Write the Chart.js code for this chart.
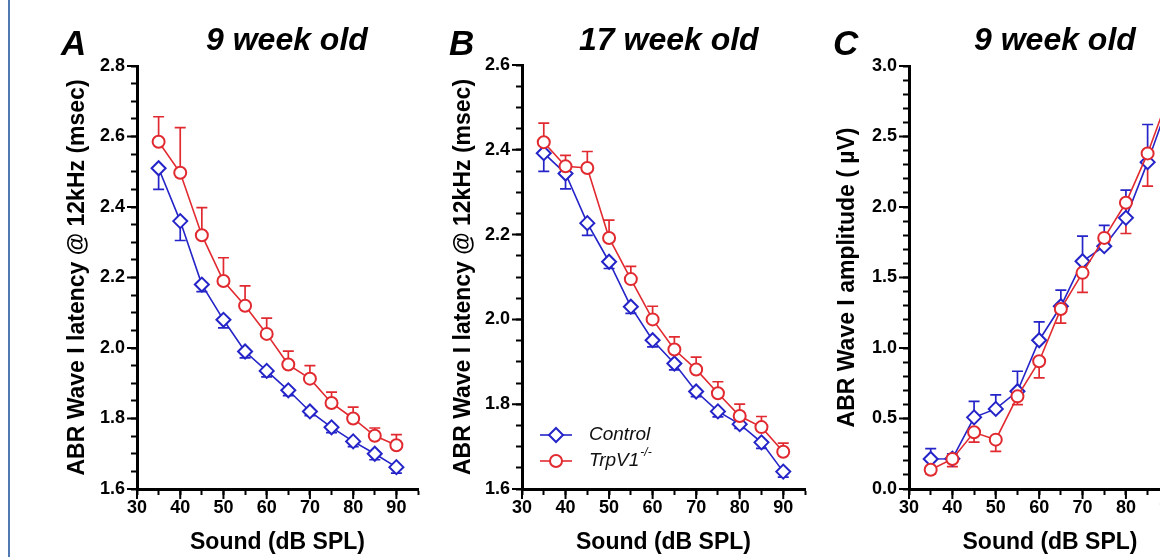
<!DOCTYPE html>
<html>
<head>
<meta charset="utf-8">
<script src="https://cdn.jsdelivr.net/npm/chart.js@4.4.1/dist/chart.umd.min.js"></script>
<style>
  html, body { margin: 0; padding: 0; width: 1160px; height: 557px; overflow: hidden; background: #fff; }
  .panel { position: absolute; top: 0; }
  .lbl { position: absolute; font-family: "Liberation Sans", Arial, sans-serif; font-weight: bold; font-style: italic; line-height: 1; white-space: nowrap; color: #000; }
  #frame { position: absolute; left: 8px; top: 0; width: 2px; height: 557px; background: #5079b2; }
</style>
</head>
<body>
<div id="frame"></div>
<canvas id="chartA" class="panel" width="430" height="557" style="left:0px"></canvas>
<canvas id="chartB" class="panel" width="390" height="557" style="left:430px"></canvas>
<canvas id="chartC" class="panel" width="390" height="557" style="left:820px"></canvas>
<div class="lbl" style="left:61px;top:25px;font-size:35px">A</div>
<div class="lbl" style="left:206px;top:23px;font-size:32px">9 week old</div>
<div class="lbl" style="left:449px;top:25px;font-size:35px">B</div>
<div class="lbl" style="left:579px;top:23px;font-size:32px">17 week old</div>
<div class="lbl" style="left:833px;top:25px;font-size:35px">C</div>
<div class="lbl" style="left:974px;top:23px;font-size:32px">9 week old</div>
<script>
// sound levels (dB SPL)
const soundLevels = [35, 40, 45, 50, 55, 60, 65, 70, 75, 80, 85, 90];
const xTickLabels = [30, 40, 50, 60, 70, 80, 90];

// A: latency, 9 week old
const latency9wkControl = [2.51, 2.36, 2.18, 2.08, 1.99, 1.935, 1.88, 1.82, 1.775, 1.735, 1.70, 1.662];
const latency9wkControlSem = [0.06, 0.055, 0.02, 0.023, 0.018, 0.017, 0.015, 0.012, 0.015, 0.015, 0.017, 0.017];
const latency9wkTrpv1 = [2.585, 2.497, 2.32, 2.19, 2.12, 2.04, 1.953, 1.913, 1.844, 1.80, 1.751, 1.724];
const latency9wkTrpv1Sem = [0.071, 0.128, 0.078, 0.066, 0.056, 0.045, 0.038, 0.037, 0.031, 0.032, 0.022, 0.03];
const latencyTicksA = ['1.6', '1.8', '2.0', '2.2', '2.4', '2.6', '2.8'];

// B: latency, 17 week old
const latency17wkControl = [2.392, 2.344, 2.227, 2.136, 2.03, 1.951, 1.896, 1.83, 1.783, 1.753, 1.71, 1.641];
const latency17wkControlSem = [0.043, 0.036, 0.029, 0.016, 0.016, 0.016, 0.015, 0.012, 0.013, 0.01, 0.014, 0.013];
const latency17wkTrpv1 = [2.418, 2.361, 2.357, 2.192, 2.095, 2.0, 1.929, 1.882, 1.826, 1.772, 1.746, 1.688];
const latency17wkTrpv1Sem = [0.045, 0.026, 0.039, 0.042, 0.03, 0.031, 0.03, 0.029, 0.027, 0.028, 0.025, 0.02];
const latencyTicksB = ['1.6', '1.8', '2.0', '2.2', '2.4', '2.6'];

// C: amplitude, 9 week old
const amp9wkControl = [0.213, 0.215, 0.508, 0.568, 0.693, 1.055, 1.296, 1.615, 1.722, 1.923, 2.318, 2.75];
const amp9wkControlSem = [0.073, 0.035, 0.114, 0.1, 0.142, 0.13, 0.114, 0.178, 0.147, 0.196, 0.267, 0.25];
const amp9wkTrpv1 = [0.137, 0.213, 0.402, 0.35, 0.657, 0.906, 1.277, 1.533, 1.781, 2.03, 2.38, 2.8];
const amp9wkTrpv1Sem = [0.03, 0.055, 0.069, 0.083, 0.059, 0.118, 0.1, 0.138, 0.03, 0.218, 0.232, 0.25];
const ampTicksC = ['0.0', '0.5', '1.0', '1.5', '2.0', '2.5', '3.0'];

const BLUE = '#2424c8';
const RED = '#e12a30';
const FONT = '"Liberation Sans", Arial, sans-serif';

// error bars drawn under the markers
const errorBars = {
  id: 'errorBars',
  beforeDatasetsDraw(chart) {
    const { ctx, scales: { x, y } } = chart;
    chart.data.datasets.forEach(ds => {
      ctx.save();
      ctx.strokeStyle = ds.borderColor;
      ctx.lineWidth = 1.7;
      ds.data.forEach((p, i) => {
        const px = x.getPixelForValue(p.x);
        const py0 = y.getPixelForValue(p.y);
        const py1 = y.getPixelForValue(p.y + ds.errDir * ds.err[i]);
        ctx.beginPath();
        ctx.moveTo(px, py0);
        ctx.lineTo(px, py1);
        ctx.moveTo(px - 5.5, py1);
        ctx.lineTo(px + 5.5, py1);
        ctx.stroke();
      });
      ctx.restore();
    });
  }
};

// longer ticks at the labelled values
const majorTicks = {
  id: 'majorTicks',
  afterDraw(chart) {
    const { ctx, chartArea: area, scales: { x, y } } = chart;
    const yLabels = chart.options.yLabels;
    ctx.save();
    ctx.strokeStyle = '#000';
    ctx.lineWidth = 2;
    ctx.beginPath();
    x.ticks.forEach(t => {
      if (xTickLabels.includes(t.value)) {
        const px = x.getPixelForValue(t.value);
        ctx.moveTo(px, area.bottom);
        ctx.lineTo(px, area.bottom + 10);
      }
    });
    y.ticks.forEach(t => {
      if (yLabels.includes(t.value.toFixed(1)) && Math.abs(t.value * 10 - Math.round(t.value * 10)) < 1e-6) {
        const py = y.getPixelForValue(t.value);
        ctx.moveTo(area.left - 10, py);
        ctx.lineTo(area.left, py);
      }
    });
    ctx.stroke();
    ctx.restore();
  }
};

// legend for panel B
const legendB = {
  id: 'legendB',
  afterDraw(chart) {
    if (!chart.options.showKey) return;
    const { ctx, chartArea: area } = chart;
    const x0 = area.left + 18, x1 = area.left + 50, mx = (x0 + x1) / 2;
    const rows = [
      { y: area.bottom - 54, color: BLUE, style: 'diamond', text: 'Control' },
      { y: area.bottom - 28, color: RED, style: 'circle', text: 'TrpV1' }
    ];
    ctx.save();
    rows.forEach(r => {
      ctx.strokeStyle = r.color;
      ctx.lineWidth = 1.6;
      ctx.beginPath();
      ctx.moveTo(x0, r.y); ctx.lineTo(x1, r.y);
      ctx.stroke();
      ctx.fillStyle = '#fff';
      ctx.lineWidth = 2;
      ctx.beginPath();
      if (r.style === 'diamond') {
        ctx.moveTo(mx, r.y - 7); ctx.lineTo(mx + 7, r.y); ctx.lineTo(mx, r.y + 7); ctx.lineTo(mx - 7, r.y); ctx.closePath();
      } else {
        ctx.arc(mx, r.y, 6, 0, Math.PI * 2);
      }
      ctx.fill(); ctx.stroke();
      ctx.fillStyle = '#111';
      ctx.font = 'italic 19px ' + FONT;
      ctx.textBaseline = 'middle';
      ctx.fillText(r.text, x1 + 17, r.y);
      if (r.style === 'circle') {
        const w = ctx.measureText(r.text).width;
        ctx.font = 'italic 12px ' + FONT;
        ctx.fillText('-/-', x1 + 17 + w + 1, r.y - 8);
      }
    });
    ctx.restore();
  }
};

function makePanel(id, p) {
  const pts = vals => soundLevels.map((x, i) => ({ x: x, y: vals[i] }));
  return new Chart(document.getElementById(id), {
    type: 'line',
    data: {
      datasets: [
        {
          label: 'Control', data: pts(p.control), err: p.controlSem, errDir: p.controlDir,
          borderColor: BLUE, borderWidth: 1.6, pointStyle: 'rectRot', pointRadius: 7,
          pointBorderWidth: 2, pointBackgroundColor: '#fff', pointBorderColor: BLUE, order: 1
        },
        {
          label: 'TrpV1-/-', data: pts(p.trpv1), err: p.trpv1Sem, errDir: -p.controlDir,
          borderColor: RED, borderWidth: 1.6, pointStyle: 'circle', pointRadius: 6,
          pointBorderWidth: 2, pointBackgroundColor: '#fff', pointBorderColor: RED, order: 0
        }
      ]
    },
    options: {
      responsive: false,
      animation: false,
      yLabels: p.yLabels,
      showKey: p.showKey,
      layout: { padding: { top: p.top, right: p.right, left: 0, bottom: 0 } },
      plugins: { legend: { display: false }, tooltip: { enabled: false } },
      scales: {
        x: {
          type: 'linear', min: 30, max: 95,
          afterFit: s => { s.height = 557 - 489; },
          ticks: {
            stepSize: 5, autoSkip: false, maxRotation: 0, padding: 2, color: '#000',
            font: { family: FONT, size: 18, weight: 'bold' },
            callback: v => xTickLabels.includes(v) ? String(v) : ''
          },
          grid: { drawOnChartArea: false, tickLength: 6, tickWidth: 2, tickColor: '#000' },
          border: { width: 3, color: '#000' },
          title: {
            display: true, text: 'Sound (dB SPL)', color: '#000',
            font: { family: FONT, size: 23, weight: 'bold' }, padding: { top: 0, bottom: 1 }
          }
        },
        y: {
          type: 'linear', min: p.min, max: p.max,
          afterFit: s => { s.width = p.yWidth; },
          ticks: {
            stepSize: p.step, autoSkip: false, padding: 6, color: '#000',
            font: { family: FONT, size: 18, weight: 'bold' },
            callback: v => {
              const s = v.toFixed(1);
              return (p.yLabels.includes(s) && Math.abs(v * 10 - Math.round(v * 10)) < 1e-6) ? s : '';
            }
          },
          grid: { drawOnChartArea: false, tickLength: 6, tickWidth: 2, tickColor: '#000' },
          border: { width: 3, color: '#000' },
          title: {
            display: true, text: p.yTitle, color: '#000',
            font: { family: FONT, size: 23, weight: 'bold' }, padding: { top: p.titlePad, bottom: 0 }
          }
        }
      }
    },
    plugins: [errorBars, majorTicks, legendB]
  });
}

makePanel('chartA', {
  control: latency9wkControl, controlSem: latency9wkControlSem,
  trpv1: latency9wkTrpv1, trpv1Sem: latency9wkTrpv1Sem, controlDir: -1,
  min: 1.6, max: 2.8, step: 0.05, yLabels: latencyTicksA,
  yTitle: 'ABR Wave I latency @ 12kHz (msec)',
  top: 66, right: 12, yWidth: 137, titlePad: 64, showKey: false
});

makePanel('chartB', {
  control: latency17wkControl, controlSem: latency17wkControlSem,
  trpv1: latency17wkTrpv1, trpv1Sem: latency17wkTrpv1Sem, controlDir: -1,
  min: 1.6, max: 2.6, step: 0.05, yLabels: latencyTicksB,
  yTitle: 'ABR Wave I latency @ 12kHz (msec)',
  top: 65, right: 15, yWidth: 92, titlePad: 20, showKey: true
});

makePanel('chartC', {
  control: amp9wkControl, controlSem: amp9wkControlSem,
  trpv1: amp9wkTrpv1, trpv1Sem: amp9wkTrpv1Sem, controlDir: 1,
  min: 0, max: 3.0, step: 0.1, yLabels: ampTicksC,
  yTitle: 'ABR Wave I amplitude ( \u00b5V)',
  top: 66, right: 19, yWidth: 89, titlePad: 14, showKey: false
});
</script>
</body>
</html>
